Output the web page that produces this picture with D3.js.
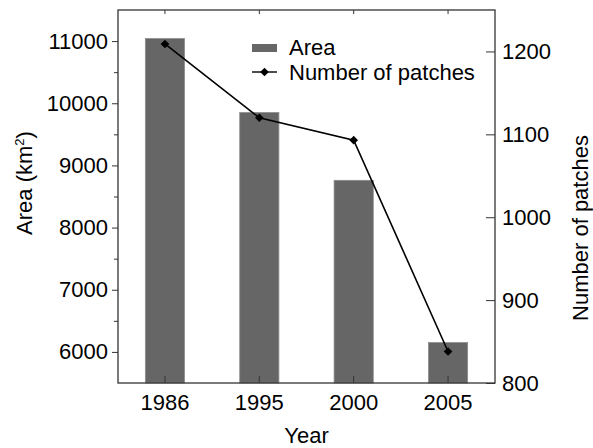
<html><head>
<script src="https://d3js.org/d3.v7.min.js"></script>
<style>
  body { margin: 0; background: #fff; }
  text { font-family: "Liberation Sans", Arial, sans-serif; fill: #000; }
  .frame { fill: none; stroke: #333; stroke-width: 1.3px; }
  .tick line { stroke: #333; }
</style>
</head>
<body>
<script>
// data
const years = ["1986", "1995", "2000", "2005"]
const area = [11040, 9850, 8760, 6150]
const patches = [1209, 1120, 1093, 838]
const areaTicks = [6000, 7000, 8000, 9000, 10000, 11000]
const patchTicks = [800, 900, 1000, 1100, 1200]

const width = 593, height = 448
const margin = {top: 10, right: 98, bottom: 65, left: 118}
const fs = "22px"

const svg = d3.select("body").append("svg")
    .attr("width", width)
    .attr("height", height)

//Scales
const x = d3.scaleBand().domain(years)
    .range([margin.left, width - margin.right])
    .paddingInner(0.585).paddingOuter(0.29)
const xc = d => x(d) + x.bandwidth() / 2
const yL = d3.scaleLinear().domain([5500, 11500]).range([height - margin.bottom, margin.top])
const yR = d3.scaleLinear().domain([800, 1250]).range([height - margin.bottom, margin.top])

//Bars
svg.selectAll("rect.bar").data(years)
    .join("rect")
    .attr("class", "bar")
    .attr("x", d => x(d))
    .attr("width", x.bandwidth())
    .attr("y", (d, i) => yL(area[i]))
    .attr("height", (d, i) => yL(5500) - yL(area[i]))
    .style("fill", "#666")
    .style("stroke", "#8c8c8c")
    .style("stroke-width", 0.8)

//Line + diamonds
const line = d3.line().x(d => xc(d[0])).y(d => yR(d[1]))
svg.append("path")
    .datum(years.map((y, i) => [y, patches[i]]))
    .attr("d", line)
    .style("fill", "none")
    .style("stroke", "#000")
    .style("stroke-width", 1.6)

const diamond = d3.symbol().type(d3.symbolDiamond2).size(48)
svg.selectAll("path.pt").data(years)
    .join("path")
    .attr("class", "pt")
    .attr("d", diamond)
    .attr("transform", (d, i) => "translate(" + xc(d) + "," + yR(patches[i]) + ")")
    .style("fill", "#000")

//Axes
const left = svg.append("g").attr("transform", "translate(" + margin.left + ",0)")
    .call(d3.axisLeft(yL).tickValues(areaTicks).tickFormat(d3.format("d")).tickSize(6).tickPadding(4))
left.selectAll(".tick text").style("font-size", fs)
svg.append("g").attr("transform", "translate(" + margin.left + ",0)")
    .call(d3.axisLeft(yL).tickValues(d3.range(6500, 11500, 1000)).tickSize(4).tickFormat(""))

const right = svg.append("g").attr("transform", "translate(" + (width - margin.right) + ",0)")
    .call(d3.axisRight(yR).tickValues(patchTicks).tickFormat(d3.format("d")).tickSize(-9).tickPadding(7))
right.selectAll(".tick text").style("font-size", fs)

const bottom = svg.append("g").attr("transform", "translate(0," + (height - margin.bottom) + ")")
    .call(d3.axisBottom(x).tickSize(-7).tickPadding(11))
bottom.selectAll(".tick text").style("font-size", fs)

svg.append("g").attr("transform", "translate(0," + margin.top + ")")
    .call(d3.axisTop(x).tickSize(-4).tickFormat(""))

svg.selectAll(".domain").remove()

svg.append("rect").attr("class", "frame")
    .attr("x", margin.left).attr("y", margin.top)
    .attr("width", width - margin.left - margin.right)
    .attr("height", height - margin.top - margin.bottom)

//Axis titles
svg.append("text")
    .attr("x", (margin.left + width - margin.right) / 2)
    .attr("y", 443)
    .attr("text-anchor", "middle")
    .style("font-size", fs)
    .text("Year")

const lt = svg.append("text")
    .attr("transform", "translate(32,183) rotate(-90)")
    .attr("text-anchor", "middle")
    .style("font-size", fs)
lt.append("tspan").text("Area (km")
lt.append("tspan").attr("dy", -8).style("font-size", "13px").text("2")
lt.append("tspan").attr("dy", 8).text(")")

svg.append("text")
    .attr("transform", "translate(588,228) rotate(-90)")
    .attr("text-anchor", "middle")
    .style("font-size", fs)
    .text("Number of patches")

//Legend
const legend = svg.append("g")
legend.append("rect")
    .attr("x", 252).attr("y", 44).attr("width", 25).attr("height", 8)
    .style("fill", "#666")
legend.append("text").attr("x", 289).attr("y", 55).style("font-size", fs).text("Area")
legend.append("line")
    .attr("x1", 252).attr("x2", 277).attr("y1", 72).attr("y2", 72)
    .style("stroke", "#000").style("stroke-width", 1.4)
legend.append("path").attr("d", diamond).attr("transform", "translate(264.5,72)").style("fill", "#000")
legend.append("text").attr("x", 289).attr("y", 80).style("font-size", fs).text("Number of patches")
</script>
</body></html>
